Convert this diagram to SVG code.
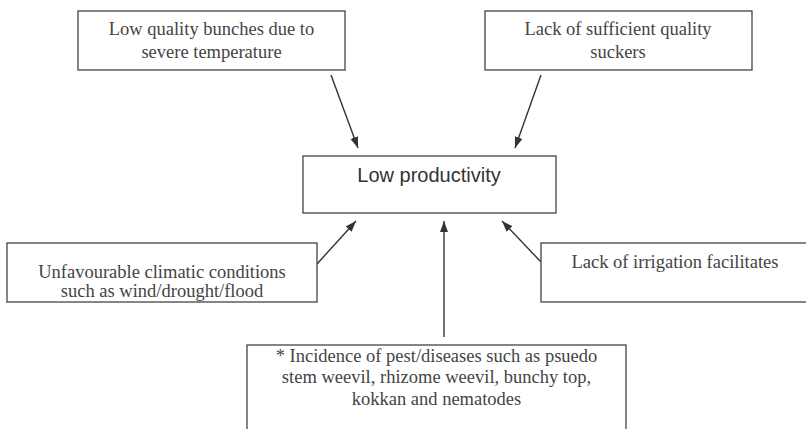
<svg xmlns="http://www.w3.org/2000/svg" width="806" height="429" viewBox="0 0 806 429">
<style>
.box{fill:#fff;stroke:#444;stroke-width:1.3}
.t{font-family:"Liberation Serif","Times New Roman",serif;font-size:18.5px;fill:#444;text-anchor:middle}
.c{font-family:"Liberation Sans",Arial,sans-serif;font-size:20px;fill:#333;text-anchor:middle}
.arr{stroke:#333;stroke-width:1.4;fill:none;marker-end:url(#ah)}
</style>
<defs>
<marker id="ah" markerUnits="userSpaceOnUse" markerWidth="12" markerHeight="9" refX="11" refY="4" orient="auto">
<path d="M0,0 L11,4 L0,8 z" fill="#333"/>
</marker>
</defs>
<rect width="806" height="429" fill="#fff"/>
<g id="connectors">
<line class="arr" x1="331" y1="75" x2="358" y2="148"/>
<line class="arr" x1="541" y1="75" x2="515" y2="148"/>
<line class="arr" x1="317" y1="264" x2="356" y2="221"/>
<line class="arr" x1="541" y1="262" x2="502" y2="221"/>
<line class="arr" x1="444" y1="337" x2="444" y2="221"/>
</g>
<g id="n-bunches">
<rect class="box" x="78" y="11" width="267" height="59"/>
<text class="t" x="211.5" y="35">Low quality bunches due to</text>
<text class="t" x="211.5" y="58">severe temperature</text>
</g>
<g id="n-suckers">
<rect class="box" x="485" y="11" width="267" height="59"/>
<text class="t" x="618" y="35">Lack of sufficient quality</text>
<text class="t" x="618" y="58">suckers</text>
</g>
<g id="n-center">
<rect class="box" x="303" y="156" width="253" height="57"/>
<text class="c" x="429" y="182">Low productivity</text>
</g>
<g id="n-climate">
<rect class="box" x="7" y="243" width="310" height="59"/>
<text class="t" x="162" y="278">Unfavourable climatic conditions</text>
<text class="t" x="162" y="297">such as wind/drought/flood</text>
</g>
<g id="n-irrigation">
<rect class="box" x="541" y="243" width="268" height="59"/>
<text class="t" x="675" y="268">Lack of irrigation facilitates</text>
</g>
<g id="n-pests">
<rect class="box" x="247" y="345" width="379" height="90"/>
<text class="t" x="436.5" y="362">* Incidence of pest/diseases such as psuedo</text>
<text class="t" x="436.5" y="383">stem weevil, rhizome weevil, bunchy top,</text>
<text class="t" x="436.5" y="405">kokkan and nematodes</text>
</g>
</svg>
